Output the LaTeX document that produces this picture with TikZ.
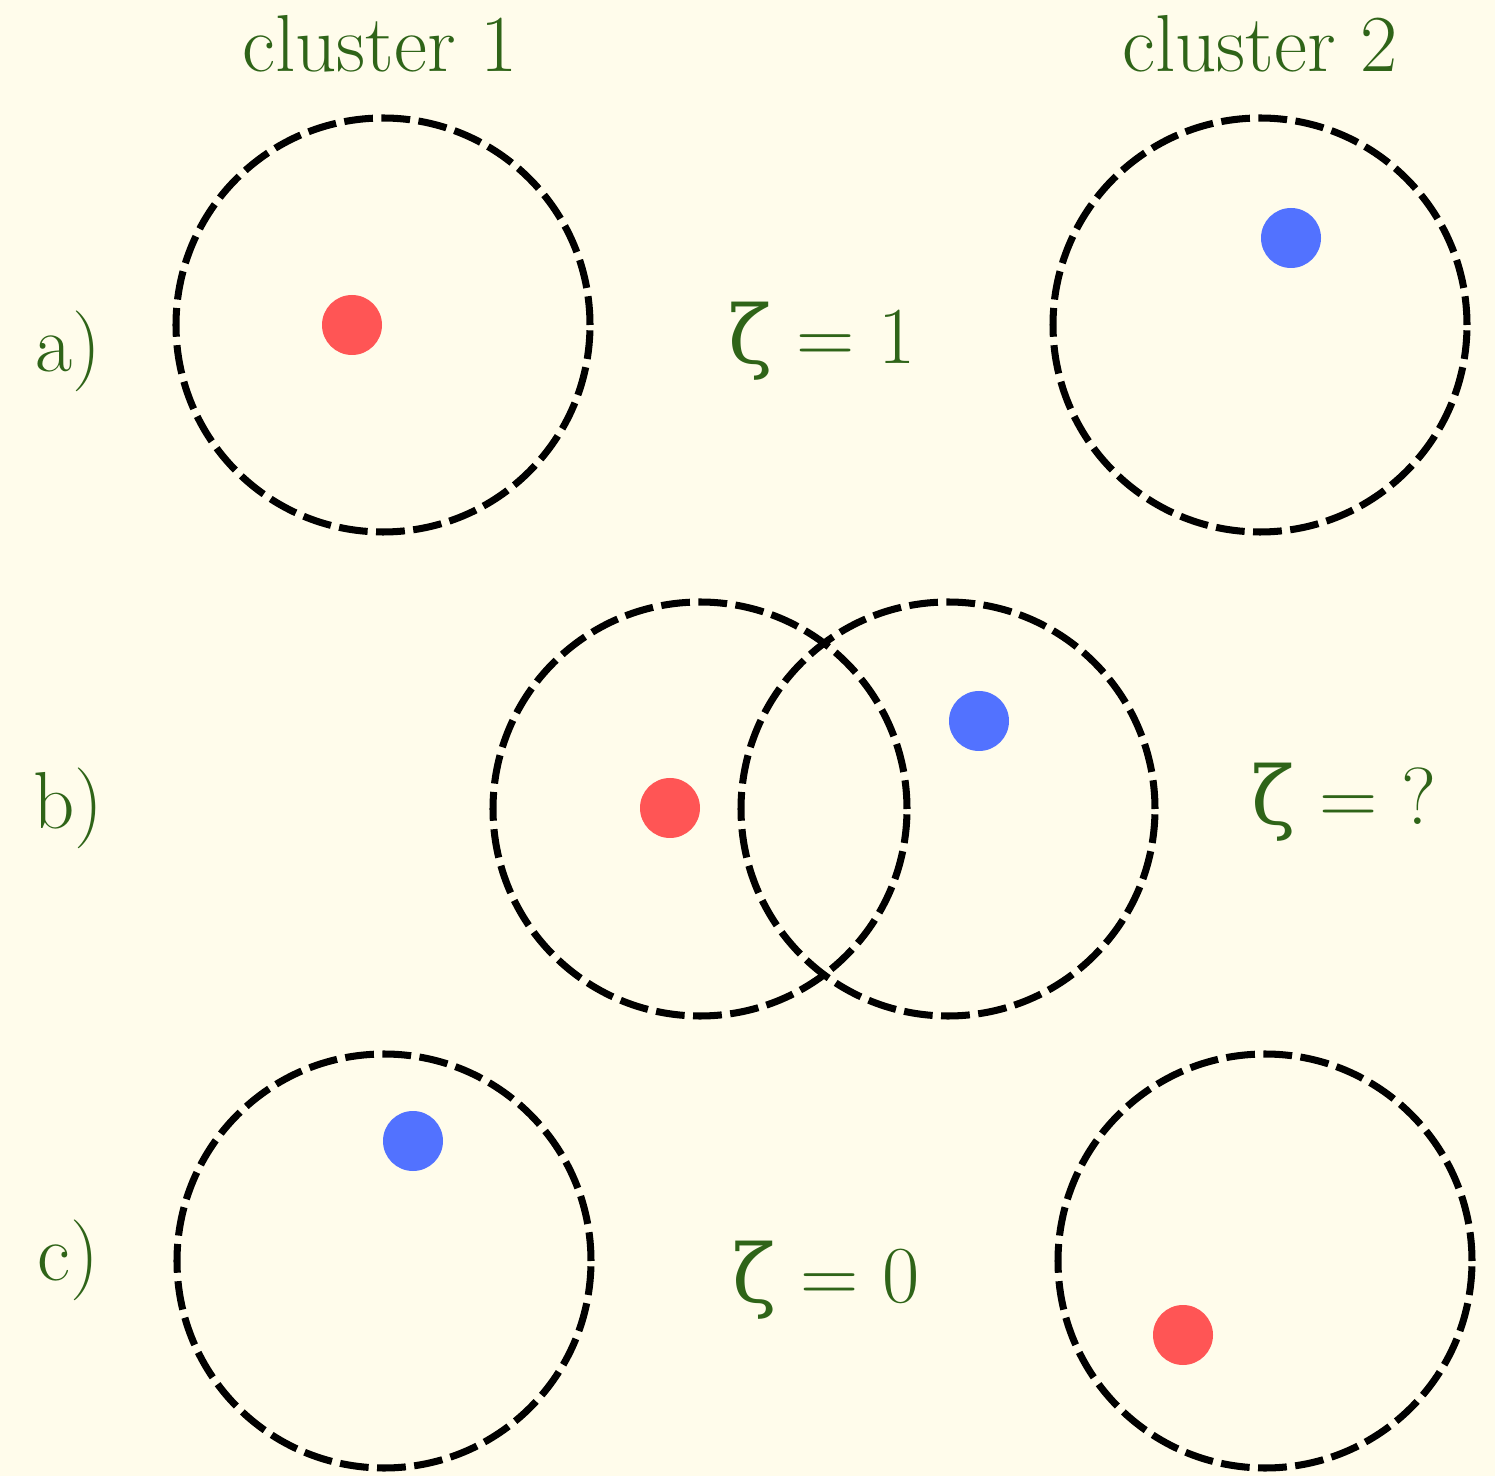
\documentclass[tikz,border=0pt]{standalone}
\usepackage{fontspec}
\newfontfamily\zetafont{DejaVu Serif}
\usepackage{tikz}
\usetikzlibrary{positioning}
\definecolor{cream}{HTML}{FFFCEB}
\definecolor{labelgreen}{HTML}{2F6418}
\definecolor{dotred}{HTML}{FF5555}
\definecolor{dotblue}{HTML}{5272FF}

\begin{document}
\begin{tikzpicture}[
    cluster ring/.style={
        draw=black,
        line width=2pt,
        dash pattern=on 8.2pt off 2.4pt
    },
    red dot/.style={circle, fill=dotred, inner sep=0pt, minimum size=0.6cm},
    blue dot/.style={circle, fill=dotblue, inner sep=0pt, minimum size=0.6cm},
    label text/.style={text=labelgreen, anchor=base, font=\fontsize{23}{27}\selectfont}
  ]

  \fill[cream] (0,0) rectangle (14.95,-14.76);
  \useasboundingbox (0,0) rectangle (14.95,-14.76);

  % headings
  \node[label text] (head1) at (3.80,-0.72) {cluster 1};
  \node[label text] (head2) at (12.60,-0.72) {cluster 2};

  % row a)
  \node[label text] (rowa) at (0.68,-3.72) {a)};
  \coordinate (ring_a1) at (3.83,-3.25);
  \coordinate (ring_a2) at (12.60,-3.25);
  \draw[cluster ring] (ring_a1) circle (2.07);
  \draw[cluster ring] (ring_a2) circle (2.07);
  \node[red dot] (red_a) at (3.52,-3.25) {};
  \node[blue dot] (blue_a) at (12.91,-2.38) {};
  \node[label text] (zeta_a) at (8.22,-3.64) {{\zetafont\mdseries ζ} = 1};

  % row b)
  \node[label text] (rowb) at (0.68,-8.28) {b)};
  \coordinate (ring_b1) at (7.00,-8.09);
  \coordinate (ring_b2) at (9.48,-8.09);
  \draw[cluster ring] (ring_b1) circle (2.07);
  \draw[cluster ring] (ring_b2) circle (2.07);
  \node[red dot] (red_b) at (6.70,-8.08) {};
  \node[blue dot] (blue_b) at (9.79,-7.21) {};
  \node[label text] (zeta_b) at (13.44,-8.25) {{\zetafont\mdseries ζ} = ?};

  % row c)
  \node[label text] (rowc) at (0.68,-12.80) {c)};
  \coordinate (ring_c1) at (3.84,-12.61);
  \coordinate (ring_c2) at (12.65,-12.61);
  \draw[cluster ring] (ring_c1) circle (2.07);
  \draw[cluster ring] (ring_c2) circle (2.07);
  \node[blue dot] (blue_c) at (4.13,-11.41) {};
  \node[red dot] (red_c) at (11.83,-13.35) {};
  \node[label text] (zeta_c) at (8.26,-13.02) {{\zetafont\mdseries ζ} = 0};

\end{tikzpicture}
\end{document}
